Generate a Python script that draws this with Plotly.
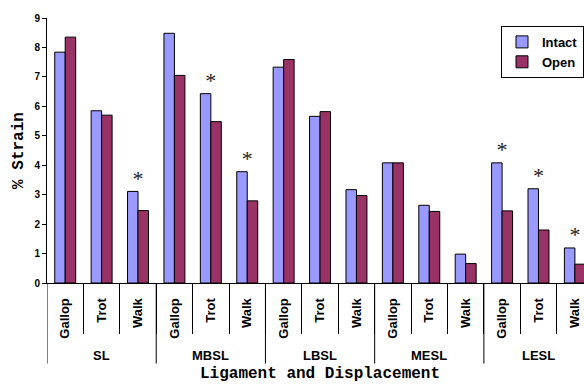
import plotly.graph_objects as go

groups = ["SL", "MBSL", "LBSL", "MESL", "LESL"]
gaits = ["Gallop", "Trot", "Walk"]
intact = [7.84, 5.85, 3.11, 8.48, 6.43, 3.78, 7.33, 5.66, 3.17, 4.08, 2.64, 0.98, 4.08, 3.20, 1.19]
opened = [8.35, 5.70, 2.46, 7.05, 5.48, 2.79, 7.59, 5.82, 2.97, 4.08, 2.43, 0.66, 2.45, 1.80, 0.64]
significant = [False, False, True, False, True, True, False, False, False,
               False, False, False, True, True, True]
y_ticks = list(range(0, 10))

sub_labels = [g for _ in groups for g in gaits]
xs = list(range(len(sub_labels)))

fig = go.Figure()
fig.add_trace(go.Bar(x=xs, y=intact, name="Intact", marker=dict(color="#9999FF", line=dict(color="black", width=1))))
fig.add_trace(go.Bar(x=xs, y=opened, name="Open", marker=dict(color="#993366", line=dict(color="black", width=1))))

sig_x = [x for x, s in zip(xs, significant) if s]
sig_y = [v for v, s in zip(intact, significant) if s]
fig.add_trace(go.Scatter(x=sig_x, y=sig_y, mode="text", text=["*"] * len(sig_x),
                         textposition="top center", showlegend=False, hoverinfo="skip",
                         textfont=dict(family="Liberation Serif, Times New Roman, serif", size=22, color="#222222")))

n = len(xs)
ng = len(gaits)
for gi, g in enumerate(groups):
    left = gi * ng - 0.5
    fig.add_shape(type="line", xref="x", yref="paper", x0=left, x1=left, y0=0, y1=-0.304,
                  line=dict(color="black", width=1))
    fig.add_annotation(x=gi * ng + (ng - 1) / 2, y=-0.273, xref="x", yref="paper", text="<b>%s</b>" % g,
                       showarrow=False, yanchor="middle", xanchor="center",
                       font=dict(family="Arial, Liberation Sans, sans-serif", size=13, color="black"))

fig.add_annotation(x=(n - 1) / 2, y=-0.345, xref="x", yref="paper", text="<b>Ligament and Displacement</b>",
                   showarrow=False, yanchor="middle", xanchor="center",
                   font=dict(family="Courier New, Liberation Mono, monospace", size=16, color="black"))

fig.update_layout(
    width=584, height=384,
    margin=dict(l=47, r=0, t=18, b=101),
    paper_bgcolor="white", plot_bgcolor="white",
    barmode="group", bargap=0.424, bargroupgap=0,
    font=dict(family="Arial, Liberation Sans, sans-serif", color="black"),
    legend=dict(x=1.0, y=0.97, xanchor="right", yanchor="top", bordercolor="black", borderwidth=1,
                bgcolor="white", font=dict(size=13, family="Arial, Liberation Sans, sans-serif", weight="bold")),
    xaxis=dict(range=[-0.5, n - 0.75], tickmode="array", tickvals=xs, ticktext=["<b>%s</b>" % s for s in sub_labels],
               tickangle=-90, ticks="", showline=True, linecolor="black", linewidth=1, showgrid=False,
               zeroline=False, tickfont=dict(size=13), ticklabelstandoff=9,
               minor=dict(tickvals=[x + 0.5 for x in xs], ticks="outside", ticklen=50, tickcolor="black", tickwidth=1)),
    yaxis=dict(range=[0, 9], tickmode="array", tickvals=y_ticks, ticks="outside", ticklen=4, tickcolor="black",
               showline=True, linecolor="black", linewidth=1, showgrid=False, zeroline=False,
               tickfont=dict(size=10, weight="bold"),
               title=dict(text="<b>% Strain</b>", standoff=6,
                          font=dict(family="Courier New, Liberation Mono, monospace", size=16))),
)

fig.write_html("out.html")
